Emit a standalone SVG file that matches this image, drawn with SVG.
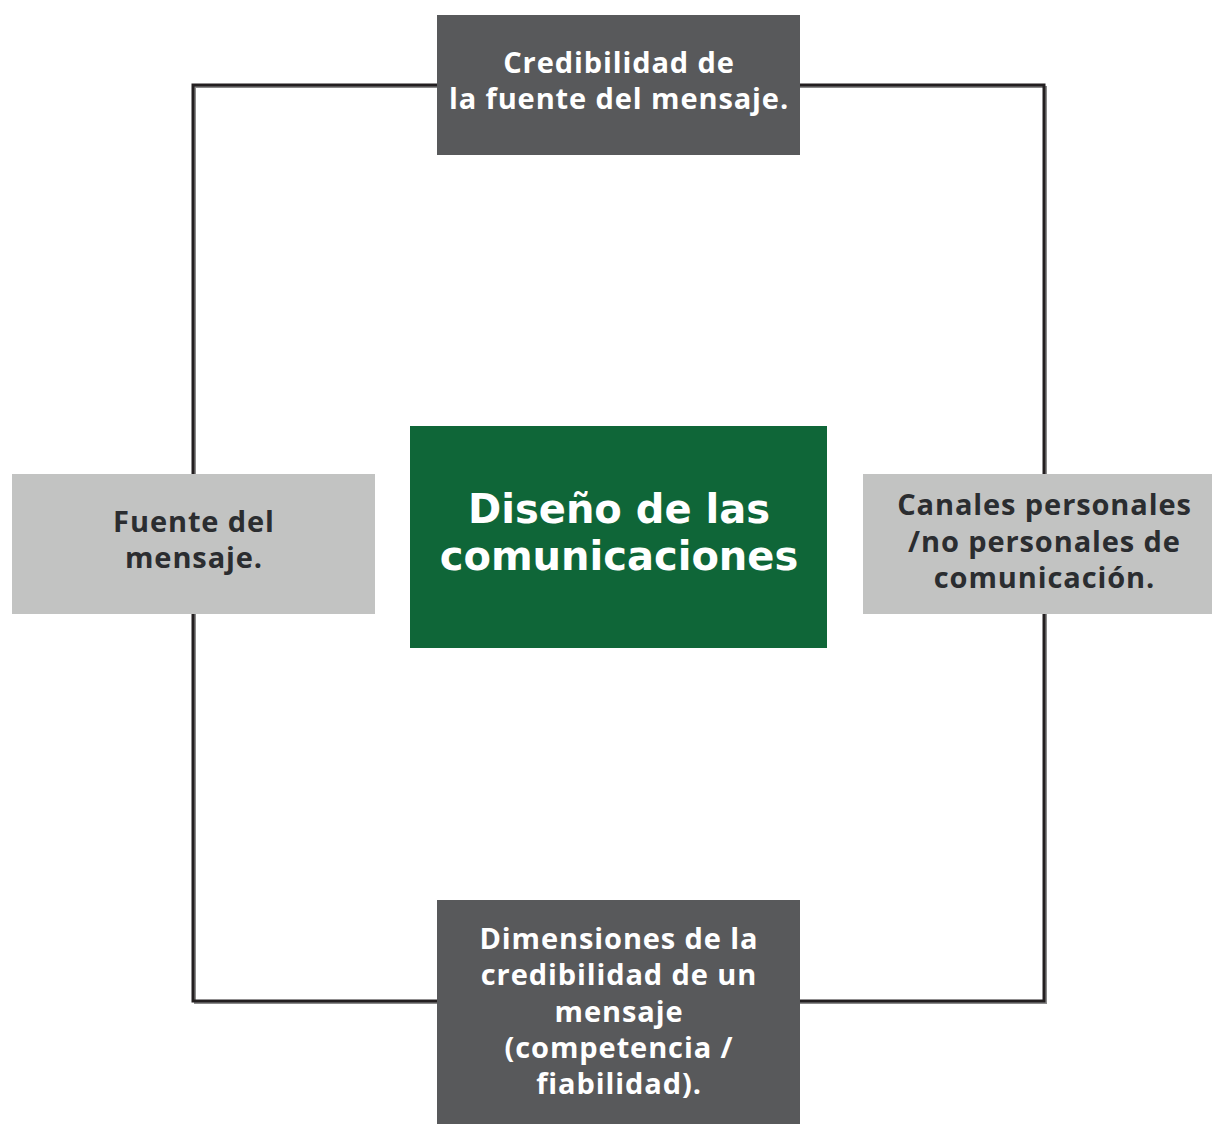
<svg xmlns="http://www.w3.org/2000/svg" width="1212" height="1124" viewBox="0 0 1212 1124">
<style>
.dark{fill:#58595b}
.light{fill:#c2c3c2}
.green{fill:#0f6638}
text{font-family:"Open Sans","Noto Sans","Liberation Sans",sans-serif;font-weight:700;text-anchor:middle}
.w{fill:#ffffff;font-size:29px;letter-spacing:0.9px}
.k{fill:#2b2d30;font-size:29px;letter-spacing:0.9px}
.big{fill:#ffffff;font-family:"DejaVu Sans","Open Sans",sans-serif;font-size:40px}
.conn{fill:none;stroke:#231f20;stroke-width:3}
.shadow{fill:none;stroke:#8a8a8a;stroke-width:2}
</style>
<rect width="1212" height="1124" fill="#ffffff"/>
<g id="connectors">
<rect class="shadow" x="195" y="87" width="851" height="916"/>
<rect class="conn" x="193" y="85" width="851" height="916"/>
</g>
<g id="top">
<rect class="dark" x="437" y="15" width="363" height="140"/>
<text class="w" x="619" y="73">Credibilidad de</text>
<text class="w" x="619" y="109">la fuente del mensaje.</text>
</g>
<g id="left">
<rect class="light" x="12" y="474" width="363" height="140"/>
<text class="k" x="194" y="532">Fuente del</text>
<text class="k" x="194" y="568">mensaje.</text>
</g>
<g id="center">
<rect class="green" x="410" y="426" width="417" height="222"/>
<text class="big" x="619" y="523">Diseño de las</text>
<text class="big" x="619" y="570">comunicaciones</text>
</g>
<g id="right">
<rect class="light" x="863" y="474" width="349" height="140"/>
<text class="k" x="1044.5" y="515">Canales personales</text>
<text class="k" x="1044.5" y="552">/no personales de</text>
<text class="k" x="1044.5" y="588">comunicación.</text>
</g>
<g id="bottom">
<rect class="dark" x="437" y="900" width="363" height="224"/>
<text class="w" x="619" y="949">Dimensiones de la</text>
<text class="w" x="619" y="985">credibilidad de un</text>
<text class="w" x="619" y="1022">mensaje</text>
<text class="w" x="619" y="1058">(competencia /</text>
<text class="w" x="619" y="1094">fiabilidad).</text>
</g>
</svg>
